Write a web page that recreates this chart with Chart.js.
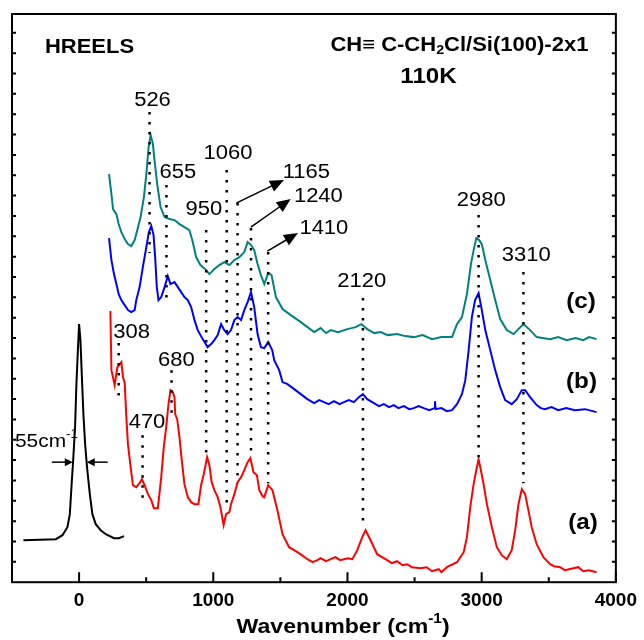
<!DOCTYPE html>
<html>
<head>
<meta charset="utf-8">
<title>HREELS CH≡C-CH2Cl/Si(100)-2x1</title>
<script src="https://cdn.jsdelivr.net/npm/chart.js@4.4.1/dist/chart.umd.min.js"></script>
<style>
  body { margin: 0; background: #fff; }
  canvas { display: block; }
</style>
</head>
<body>
<canvas id="hreelsChart" width="644" height="640"></canvas>
<script>
// wavenumber (cm-1) / intensity (arb. units)
const elasticX = [-415, -173, -124, -87, -69, -57, -44, -30, -20, -9, 0, 10, 20, 32, 45, 59, 80, 99, 124, 161, 199, 260, 297, 335];
const elasticY = [42, 43, 47, 55, 68, 95, 122, 155, 198, 232, 258, 242, 208, 168, 138, 115, 88, 68, 58, 52, 48, 44, 44, 46];

const redX = [233, 241, 265, 285, 315, 327, 340, 352, 364, 384,
  401, 426, 451, 468, 488, 513, 538, 557, 587, 612,
  631, 649, 666, 681, 698, 711, 716, 731, 748, 765,
  785, 810, 835, 860, 889, 909, 929, 954, 971, 988,
  1008, 1033, 1053, 1077, 1095, 1120, 1132, 1157, 1181, 1207,
  1231, 1256, 1276, 1300, 1325, 1343, 1367, 1380, 1409, 1441,
  1478, 1516, 1565, 1627, 1660, 1701, 1740, 1776, 1800, 1840,
  1875, 1910, 1945, 1974, 2005, 2036, 2073, 2110, 2135, 2172,
  2221, 2296, 2330, 2370, 2410, 2444, 2480, 2544, 2590, 2630,
  2680, 2700, 2741, 2816, 2866, 2890, 2915, 2940, 2960, 2977,
  2994, 3014, 3039, 3076, 3113, 3150, 3187, 3224, 3250, 3274,
  3299, 3324, 3348, 3373, 3410, 3460, 3510, 3540, 3584, 3620,
  3683, 3720, 3757, 3800, 3856];
const redY = [271, 212, 197, 215, 220, 205, 199, 165, 138, 115,
  97, 95, 99, 103, 97, 88, 82, 74, 74, 105,
  135, 155, 178, 192, 190, 185, 168, 163, 145, 122,
  98, 85, 80, 78, 78, 97, 108, 125, 117, 100,
  92, 85, 75, 57, 68, 70, 78, 88, 100, 105,
  112, 120, 124, 110, 107, 92, 86, 85, 97, 92,
  72, 48, 35, 30, 27, 23, 20, 22, 24, 21,
  23, 25, 22, 23, 24, 23, 32, 45, 52, 42,
  28, 22, 19, 21, 17, 18, 15, 14, 15, 11,
  13, 10, 15, 20, 30, 45, 75, 98, 112, 123,
  112, 98, 78, 55, 35, 27, 23, 32, 52, 78,
  93, 88, 72, 55, 38, 25, 18, 16, 15, 12,
  14, 15, 11, 12, 10];

const blueX = [223, 241, 260, 278, 295, 315, 340, 364, 389, 414,
  426, 451, 475, 501, 520, 538, 555, 568, 579, 592,
  612, 637, 661, 681, 711, 736, 761, 785, 810, 835,
  860, 884, 921, 958, 984, 1008, 1033, 1058, 1082, 1107,
  1132, 1157, 1181, 1207, 1231, 1256, 1281, 1305, 1330, 1355,
  1380, 1409, 1439, 1454, 1491, 1516, 1553, 1603, 1652, 1701,
  1751, 1790, 1825, 1860, 1900, 1940, 1974, 2010, 2048, 2085,
  2115, 2147, 2197, 2235, 2271, 2310, 2345, 2380, 2420, 2460,
  2494, 2530, 2568, 2610, 2648, 2652, 2657, 2700, 2740, 2779,
  2816, 2853, 2878, 2903, 2927, 2951, 2977, 2997, 3027, 3064,
  3101, 3138, 3175, 3224, 3262, 3299, 3324, 3361, 3410, 3440,
  3472, 3520, 3571, 3630, 3695, 3770, 3856];
const blueY = [344, 322, 308, 298, 288, 282, 277, 272, 270, 272,
  282, 295, 315, 335, 350, 356, 347, 322, 295, 282,
  285, 295, 306, 298, 300, 295, 290, 285, 282, 275,
  262, 252, 243, 235, 238, 242, 247, 258, 252, 248,
  252, 262, 265, 262, 272, 280, 290, 275, 248, 235,
  234, 240, 232, 222, 212, 200, 198, 193, 188, 183,
  179, 182, 180, 178, 181, 178, 180, 182, 180, 185,
  188, 183, 179, 176, 178, 175, 177, 174, 176, 173,
  174, 176, 174, 172, 174, 181, 173, 174, 171, 172,
  178, 188, 202, 232, 265, 282, 289, 275, 252, 232,
  212, 195, 182, 178, 183, 192, 192, 185, 177, 174,
  173, 175, 172, 174, 172, 173, 170];

const tealX = [223, 241, 253, 278, 295, 315, 340, 364, 389, 414,
  434, 458, 483, 501, 518, 533, 550, 562, 582, 607,
  637, 674, 711, 748, 785, 822, 847, 872, 904, 947,
  971, 1008, 1045, 1082, 1120, 1157, 1194, 1231, 1256, 1281,
  1305, 1330, 1355, 1380, 1409, 1434, 1467, 1516, 1578, 1652,
  1751, 1800, 1840, 1875, 1930, 1999, 2061, 2103, 2147, 2200,
  2247, 2300, 2370, 2430, 2494, 2560, 2630, 2700, 2779, 2816,
  2853, 2890, 2920, 2940, 2960, 2981, 3001, 3027, 3064, 3101,
  3138, 3187, 3237, 3274, 3311, 3361, 3410, 3510, 3570, 3633,
  3700, 3757, 3800, 3856];
const tealY = [408, 388, 373, 368, 358, 350, 343, 338, 336, 342,
  352, 365, 385, 408, 435, 447, 438, 422, 398, 375,
  365, 363, 362, 358, 355, 352, 340, 325, 317, 312,
  308, 313, 317, 320, 317, 322, 325, 330, 340, 337,
  332, 318, 307, 298, 309, 307, 285, 273, 267, 260,
  250, 254, 249, 252, 250, 253, 255, 258, 253, 249,
  250, 247, 248, 246, 245, 247, 243, 245, 245, 258,
  265, 288, 318, 332, 344, 342, 338, 322, 302, 282,
  263, 252, 248, 253, 258, 252, 245, 243, 245, 242,
  244, 242, 245, 243];

const xTicks = [0, 1000, 2000, 3000, 4000];
const peakText = ['308', '470', '526', '655', '680', '950', '1060', '1165', '1240', '1410', '2120', '2980', '3310'];

// annotation layout (axis units)
const guideX = [295, 473, 525, 651, 689, 947, 1100, 1181, 1281, 1409, 2115, 2977, 3311];
const guideTop = [239, 147, 470, 397, 212, 352, 412, 379, 354, 330, 284, 367, 310];
const guideBottom = [184, 80, 329, 280, 167, 129, 75, 99, 125, 99, 59, 125, 99];
const labelX = [391, 506, 547, 736, 725, 929, 1109, 1694, 1783, 1824, 2106, 2997, 3332];
const labelY = [250, 160, 482, 410, 222, 373, 429, 410, 386, 354, 301, 382, 327];
const arrows = [[1171, 379, 1527, 402], [1280, 355, 1577, 383], [1403, 331, 1631, 349]];

const family = "'Liberation Sans', Arial, Helvetica, sans-serif";
const stretch = 1.1;

function pts(xs, ys) {
  return xs.map((x, i) => ({ x: x, y: ys[i] }));
}

function trace(xs, ys, color) {
  return { data: pts(xs, ys), borderColor: color, borderWidth: 2, showLine: true, pointRadius: 0, tension: 0 };
}

// parts: [text, size, weight, dy]
function drawText(ctx, parts, px, py, align) {
  let w = 0;
  parts.forEach(p => {
    ctx.font = p[2] + ' ' + p[1] + 'px ' + family;
    w += ctx.measureText(p[0]).width;
  });
  const start = align === 'center' ? px - w * stretch / 2 : px;
  ctx.save();
  ctx.translate(start, py);
  ctx.scale(stretch, 1);
  ctx.textAlign = 'left';
  ctx.textBaseline = 'middle';
  ctx.fillStyle = '#000';
  let cx = 0;
  parts.forEach(p => {
    ctx.font = p[2] + ' ' + p[1] + 'px ' + family;
    ctx.fillText(p[0], cx, p[3] || 0);
    cx += ctx.measureText(p[0]).width;
  });
  ctx.restore();
}

function arrow(ctx, x1, y1, x2, y2, len, half) {
  const a = Math.atan2(y2 - y1, x2 - x1);
  ctx.beginPath();
  ctx.moveTo(x1, y1);
  ctx.lineTo(x2 - Math.cos(a) * len * 0.8, y2 - Math.sin(a) * len * 0.8);
  ctx.stroke();
  ctx.beginPath();
  ctx.moveTo(x2, y2);
  ctx.lineTo(x2 - Math.cos(a) * len - Math.sin(a) * half, y2 - Math.sin(a) * len + Math.cos(a) * half);
  ctx.lineTo(x2 - Math.cos(a) * len + Math.sin(a) * half, y2 - Math.sin(a) * len - Math.cos(a) * half);
  ctx.closePath();
  ctx.fill();
}

const frame = {
  id: 'frame',
  afterDraw(chart) {
    const { ctx, chartArea: a } = chart;
    const sx = chart.scales.x, sy = chart.scales.y;
    const X = v => sx.getPixelForValue(v);
    const Y = v => sy.getPixelForValue(v);
    ctx.save();
    ctx.strokeStyle = '#000';
    ctx.fillStyle = '#000';
    ctx.lineWidth = 2;
    ctx.strokeRect(a.left, a.top, a.right - a.left, a.bottom - a.top);

    ctx.beginPath();
    for (let v = -500; v <= 4000; v += 500) {
      const len = v % 1000 === 0 ? 10 : 5;
      ctx.moveTo(X(v), a.bottom);
      ctx.lineTo(X(v), a.bottom - len);
    }
    for (let v = 20.34; v < sy.max; v += 20.34) {
      ctx.moveTo(a.left, Y(v));
      ctx.lineTo(a.left + 4, Y(v));
      ctx.moveTo(a.right, Y(v));
      ctx.lineTo(a.right - 4, Y(v));
    }
    ctx.stroke();

    // peak labels
    peakText.forEach((t, i) => drawText(ctx, [[t, 20, 'normal']], X(labelX[i]), Y(labelY[i]), 'center'));

    // arrows to 1165 / 1240 / 1410
    ctx.lineWidth = 1.5;
    arrows.forEach(r => arrow(ctx, X(r[0]), Y(r[1]), X(r[2]), Y(r[3]), 14, 6));

    // FWHM of the elastic peak
    arrow(ctx, X(-203), Y(120), X(-47), Y(120), 8, 4);
    arrow(ctx, X(213), Y(120), X(57), Y(120), 8, 4);
    drawText(ctx, [['55cm', 19, 'normal'], ['-1', 12, 'normal', -7]], X(-478), Y(140), 'left');

    drawText(ctx, [['HREELS', 20, 'bold']], X(-255), Y(535), 'left');
    drawText(ctx, [['CH\u2261 C-CH', 20, 'bold'], ['2', 13, 'bold', 5], ['Cl/Si(100)-2x1', 20, 'bold']], X(2834), Y(537), 'center');
    drawText(ctx, [['110K', 22, 'bold']], X(2604), Y(505), 'center');
    drawText(ctx, [['(c)', 22, 'bold']], X(3740), Y(280), 'center');
    drawText(ctx, [['(b)', 22, 'bold']], X(3744), Y(200), 'center');
    drawText(ctx, [['(a)', 22, 'bold']], X(3755), Y(59), 'center');

    drawText(ctx, [['Wavenumber (cm', 21, 'bold'], ['-1', 14, 'bold', -8], [')', 21, 'bold']], X(1967), Y(-45), 'center');
    ctx.restore();
  }
};

const guides = guideX.map((gx, i) => ({
  data: [{ x: gx, y: guideTop[i] }, { x: gx, y: guideBottom[i] }],
  borderColor: '#000', borderWidth: 2.5, borderDash: [2.5, 7.5],
  showLine: true, pointRadius: 0
}));

new Chart(document.getElementById('hreelsChart'), {
  type: 'scatter',
  data: {
    datasets: guides.concat([
      trace(elasticX, elasticY, '#000000'),
      trace(redX, redY, '#ff0000'),
      trace(blueX, blueY, '#0000ff'),
      trace(tealX, tealY, '#008080')
    ])
  },
  options: {
    responsive: false,
    animation: false,
    devicePixelRatio: 1,
    layout: { padding: { left: 12, right: 26, top: 14, bottom: 21 } },
    plugins: { legend: { display: false }, tooltip: { enabled: false } },
    scales: {
      x: {
        type: 'linear', min: -500, max: 4000,
        grid: { display: false, drawTicks: false },
        border: { display: false },
        afterBuildTicks: s => { s.ticks = xTicks.map(v => ({ value: v })); },
        ticks: { padding: 7, color: '#000', font: { family: family, size: 19, weight: 'bold' }, callback: v => String(v) }
      },
      y: { display: false, min: 0, max: 568 }
    }
  },
  plugins: [frame]
});
</script>
</body>
</html>
